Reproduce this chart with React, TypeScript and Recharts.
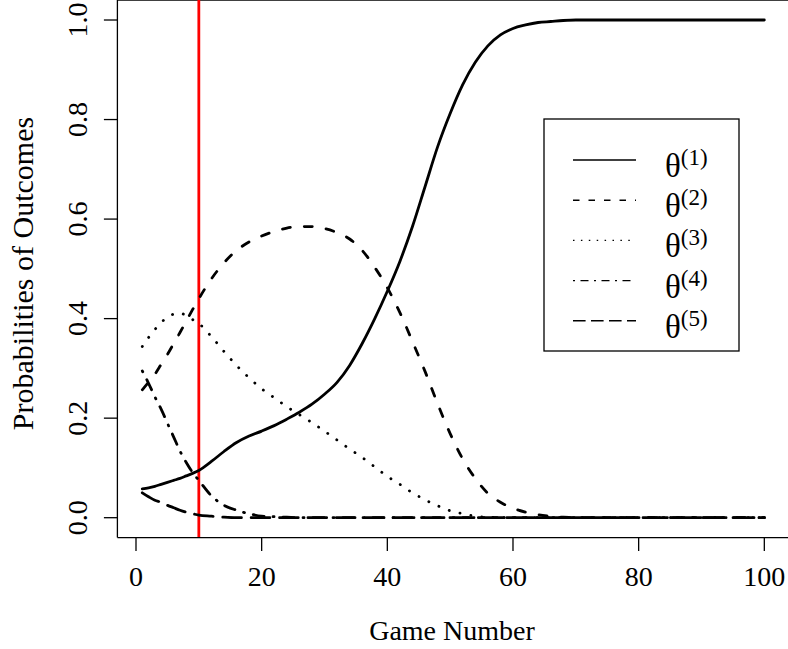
import React from "react";
import { LineChart, Line, XAxis, YAxis, ReferenceLine } from "recharts";

const GAMES = [
  1, 2, 3, 4, 5, 6, 7, 8, 9, 10, 12, 14, 16, 18, 20, 22, 24, 26, 28, 30, 32, 34, 36, 38, 40,
  42, 44, 46, 48, 50, 52, 54, 56, 58, 60, 62, 64, 66, 68, 70, 75, 80, 85, 90, 95, 100,
];

const THETA1 = [
  0.058, 0.06, 0.063, 0.067, 0.071, 0.075, 0.079, 0.084, 0.089, 0.095, 0.113, 0.133, 0.151,
  0.164, 0.174, 0.185, 0.198, 0.212, 0.228, 0.248, 0.272, 0.306, 0.35, 0.4, 0.455, 0.515,
  0.585, 0.665, 0.745, 0.812, 0.87, 0.915, 0.948, 0.97, 0.983, 0.99, 0.995, 0.997, 0.999, 1,
  1, 1, 1, 1, 1, 1,
];
const THETA2 = [
  0.257, 0.272, 0.288, 0.308, 0.328, 0.35, 0.372, 0.395, 0.418, 0.44, 0.48, 0.512, 0.537,
  0.554, 0.566, 0.575, 0.582, 0.585, 0.585, 0.581, 0.573, 0.56, 0.537, 0.503, 0.462, 0.412,
  0.354, 0.294, 0.229, 0.169, 0.118, 0.079, 0.049, 0.031, 0.019, 0.011, 0.006, 0.003, 0.001,
  0, 0, 0, 0, 0, 0, 0,
];
const THETA3 = [
  0.344, 0.362, 0.378, 0.392, 0.403, 0.409, 0.411, 0.406, 0.398, 0.39, 0.364, 0.334, 0.306,
  0.281, 0.259, 0.241, 0.223, 0.207, 0.191, 0.174, 0.156, 0.138, 0.121, 0.102, 0.083, 0.067,
  0.05, 0.036, 0.024, 0.014, 0.008, 0.003, 0.001, 0, 0, 0, 0, 0, 0, 0, 0, 0, 0, 0, 0, 0,
];
const THETA4 = [
  0.295, 0.27, 0.243, 0.218, 0.19, 0.162, 0.134, 0.111, 0.091, 0.075, 0.044, 0.025, 0.015,
  0.008, 0.003, 0.002, 0.001, 0, 0, 0, 0, 0, 0, 0, 0, 0, 0, 0, 0, 0, 0, 0, 0, 0, 0, 0, 0, 0,
  0, 0, 0, 0, 0, 0, 0, 0,
];
const THETA5 = [
  0.05, 0.042, 0.035, 0.031, 0.025, 0.02, 0.015, 0.011, 0.008, 0.005, 0.003, 0.001, 0, 0, 0,
  0, 0, 0, 0, 0, 0, 0, 0, 0, 0, 0, 0, 0, 0, 0, 0, 0, 0, 0, 0, 0, 0, 0, 0, 0, 0, 0, 0, 0, 0, 0,
];

const SERIES_NAMES = ["(1)", "(2)", "(3)", "(4)", "(5)"];
const X_TICKS = [0, 20, 40, 60, 80, 100];
const Y_TICKS = [0, 0.2, 0.4, 0.6, 0.8, 1.0];
const MARKED_GAME = 10;

const data = GAMES.map((g, i) => ({
  game: g,
  t1: THETA1[i],
  t2: THETA2[i],
  t3: THETA3[i],
  t4: THETA4[i],
  t5: THETA5[i],
}));

// curve dash and the thinner legend dash for each series
const STYLES = [
  { key: "t1", dash: undefined, legendDash: undefined },
  { key: "t2", dash: "8 14", legendDash: "6.5 9" },
  { key: "t3", dash: "0.1 11", legendDash: "1.5 6.4" },
  { key: "t4", dash: "1 9 11 9", legendDash: "2 5.5 8 5.5" },
  { key: "t5", dash: "18.7 9.7", legendDash: "12.6 5.4" },
];

const FONT = '"Liberation Serif", "Times New Roman", serif';

function XTick(props: any) {
  const { x, payload } = props;
  return (
    <text x={x} y={586} textAnchor="middle" fontSize={28} fontFamily={FONT} fill="#000">
      {payload.value}
    </text>
  );
}

function YTick(props: any) {
  const { y, payload } = props;
  return (
    <text
      x={87}
      y={y}
      transform={`rotate(-90 87 ${y})`}
      textAnchor="middle"
      fontSize={28}
      fontFamily={FONT}
      fill="#000"
    >
      {Number(payload.value).toFixed(1)}
    </text>
  );
}

function Overlay() {
  const rowY = (i: number) => 160 + i * 40.2;
  return (
    <svg
      width={788}
      height={649}
      style={{ position: "absolute", left: 0, top: 0, pointerEvents: "none" }}
      fontFamily={FONT}
    >
      <rect x={544} y={119} width={195} height={232} fill="#fff" stroke="#000" strokeWidth={1.3} />
      {STYLES.map((s, i) => (
        <g key={s.key}>
          <line
            x1={573}
            x2={636}
            y1={rowY(i)}
            y2={rowY(i)}
            stroke="#000"
            strokeWidth={1.4}
            strokeDasharray={s.legendDash}
          />
          <text x={665} y={rowY(i) + 17} fontSize={33} fill="#000">
            θ
            <tspan dy={-12} fontSize={23}>
              {SERIES_NAMES[i]}
            </tspan>
          </text>
        </g>
      ))}
      <text x={452} y={640} textAnchor="middle" fontSize={28} fill="#000">
        Game Number
      </text>
      <text
        x={33}
        y={273.5}
        transform="rotate(-90 33 273.5)"
        textAnchor="middle"
        fontSize={30}
        fill="#000"
      >
        Probabilities of Outcomes
      </text>
    </svg>
  );
}

export default function App() {
  return (
    <div
      style={{
        position: "absolute",
        left: 0,
        top: 0,
        width: 788,
        height: 649,
        overflow: "hidden",
        background: "#fff",
      }}
    >
      <LineChart
        width={800}
        height={649}
        data={data}
        margin={{ top: 0.1, right: 10.8, left: 0, bottom: 0 }}
      >
        <XAxis
          dataKey="game"
          type="number"
          domain={[-2.96, 103.96]}
          ticks={X_TICKS}
          allowDataOverflow
          height={111.4}
          tick={<XTick />}
          tickSize={13.5}
          tickLine={{ stroke: "#000", strokeWidth: 1.3 }}
          axisLine={{ stroke: "#000", strokeWidth: 1.3 }}
        />
        <YAxis
          type="number"
          domain={[-0.04, 1.04]}
          ticks={Y_TICKS}
          allowDataOverflow
          width={117.4}
          tick={<YTick />}
          tickSize={13.5}
          tickLine={{ stroke: "#000", strokeWidth: 1.3 }}
          axisLine={{ stroke: "#000", strokeWidth: 1.3 }}
        />
        <ReferenceLine y={1.04} stroke="#000" strokeWidth={1.3} />
        <ReferenceLine x={MARKED_GAME} stroke="#ff0000" strokeWidth={2.8} />
        {STYLES.map((s) => (
          <Line
            key={s.key}
            dataKey={s.key}
            type="monotone"
            stroke="#000"
            strokeWidth={2.8}
            strokeDasharray={s.dash}
            strokeLinecap="round"
            dot={false}
            activeDot={false}
            isAnimationActive={false}
          />
        ))}
      </LineChart>
      <Overlay />
    </div>
  );
}
